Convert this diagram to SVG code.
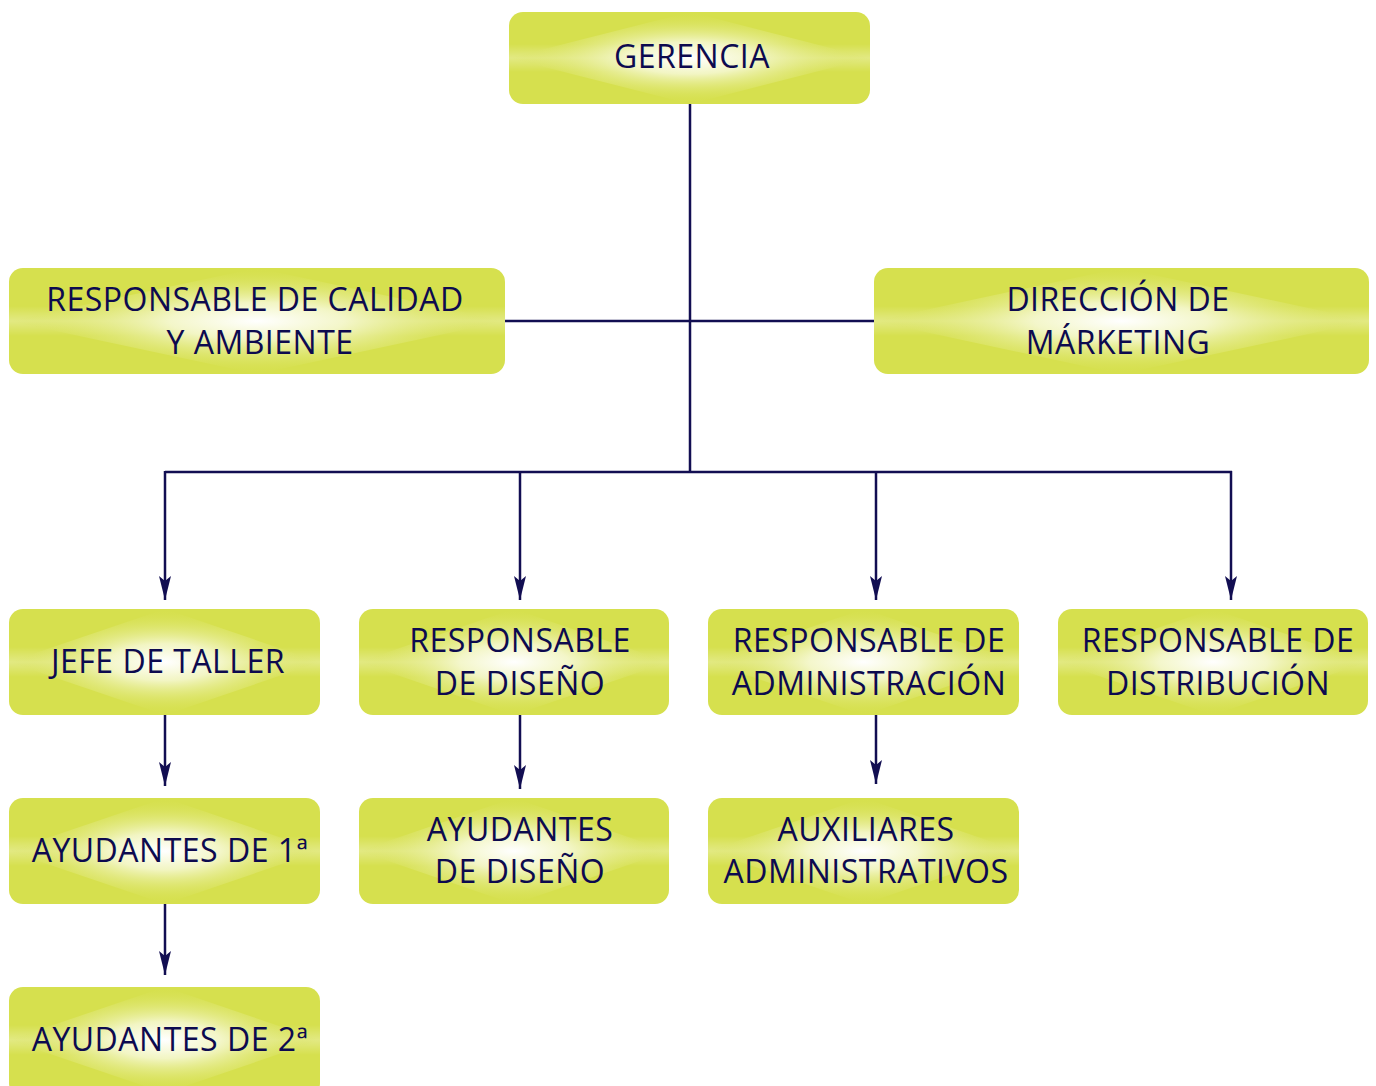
<svg xmlns="http://www.w3.org/2000/svg" width="1376" height="1086" viewBox="0 0 1376 1086">
<defs>
<radialGradient id="glow" cx="0.5" cy="0.5" r="0.5">
<stop offset="0" stop-color="#ffffff" stop-opacity="1"/>
<stop offset="0.35" stop-color="#f7f9d8" stop-opacity="0.85"/>
<stop offset="1" stop-color="#d6e04e" stop-opacity="0"/>
</radialGradient>
<linearGradient id="hband" x1="0" y1="0" x2="0" y2="1">
<stop offset="0" stop-color="#ffffff" stop-opacity="0"/>
<stop offset="0.5" stop-color="#ffffff" stop-opacity="0.3"/>
<stop offset="1" stop-color="#ffffff" stop-opacity="0"/>
</linearGradient>
<marker id="arr" viewBox="0 0 24 12" refX="24" refY="6" markerWidth="24" markerHeight="12" markerUnits="userSpaceOnUse" orient="auto">
<path d="M0,0 L24,6 L0,12 L5,6 Z" fill="#120e52"/>
</marker>
</defs>
<style>
.box{fill:#d6e04e}
.glow{fill:url(#glow)}
.band{fill:url(#hband)}
text{font-family:"Open Sans","DejaVu Sans",sans-serif;font-size:32px;letter-spacing:0.5px;fill:#0d0a4f;text-anchor:middle}
.c{stroke:#120e52;stroke-width:2.5;fill:none}
.a{stroke:#120e52;stroke-width:2.5;fill:none;marker-end:url(#arr)}
</style>

<g id="connectors">
<line class="c" x1="690" y1="104" x2="690" y2="472"/>
<line class="c" x1="505" y1="321" x2="874" y2="321"/>
<line class="c" x1="165" y1="472" x2="1232" y2="472"/>
<line class="a" x1="165" y1="471" x2="165" y2="600"/>
<line class="a" x1="520" y1="471" x2="520" y2="600"/>
<line class="a" x1="876" y1="471" x2="876" y2="600"/>
<line class="a" x1="1231" y1="471" x2="1231" y2="600"/>
<line class="a" x1="165" y1="715" x2="165" y2="786"/>
<line class="a" x1="520" y1="715" x2="520" y2="789"/>
<line class="a" x1="876" y1="715" x2="876" y2="784"/>
<line class="a" x1="165" y1="904" x2="165" y2="975"/>
</g>

<g id="gerencia">
<rect class="box" x="509" y="12" width="361" height="92" rx="14"/>
<rect class="band" x="509" y="44" width="361" height="28"/>
<polygon class="glow" points="509,58 690,12 870,58 690,104"/>
<text x="692" y="68">GERENCIA</text>
</g>

<g id="calidad">
<rect class="box" x="9" y="268" width="496" height="106" rx="14"/>
<rect class="band" x="9" y="306" width="496" height="30"/>
<polygon class="glow" points="9,321 257,268 505,321 257,374"/>
<text x="255" y="311">RESPONSABLE DE CALIDAD</text>
<text x="260" y="354">Y AMBIENTE</text>
</g>

<g id="marketing">
<rect class="box" x="874" y="268" width="495" height="106" rx="14"/>
<rect class="band" x="874" y="306" width="495" height="30"/>
<polygon class="glow" points="874,321 1121,268 1369,321 1121,374"/>
<text x="1118" y="311">DIRECCIÓN DE</text>
<text x="1118" y="354">MÁRKETING</text>
</g>

<g id="jefe-taller">
<rect class="box" x="9" y="609" width="311" height="106" rx="14"/>
<rect class="band" x="9" y="647" width="311" height="30"/>
<polygon class="glow" points="9,662 165,609 320,662 165,715"/>
<text x="168" y="673">JEFE DE TALLER</text>
</g>

<g id="resp-diseno">
<rect class="box" x="359" y="609" width="310" height="106" rx="14"/>
<rect class="band" x="359" y="647" width="310" height="30"/>
<polygon class="glow" points="359,662 514,609 669,662 514,715"/>
<text x="520" y="652">RESPONSABLE</text>
<text x="520" y="695">DE DISEÑO</text>
</g>

<g id="resp-admin">
<rect class="box" x="708" y="609" width="311" height="106" rx="14"/>
<rect class="band" x="708" y="647" width="311" height="30"/>
<polygon class="glow" points="708,662 864,609 1019,662 864,715"/>
<text x="869" y="652">RESPONSABLE DE</text>
<text x="869" y="695">ADMINISTRACIÓN</text>
</g>

<g id="resp-distribucion">
<rect class="box" x="1058" y="609" width="310" height="106" rx="14"/>
<rect class="band" x="1058" y="647" width="310" height="30"/>
<polygon class="glow" points="1058,662 1213,609 1368,662 1213,715"/>
<text x="1218" y="652">RESPONSABLE DE</text>
<text x="1218" y="695">DISTRIBUCIÓN</text>
</g>

<g id="ayudantes-1">
<rect class="box" x="9" y="798" width="311" height="106" rx="14"/>
<rect class="band" x="9" y="836" width="311" height="30"/>
<polygon class="glow" points="9,851 165,798 320,851 165,904"/>
<text x="170" y="862">AYUDANTES DE 1ª</text>
</g>

<g id="ayudantes-diseno">
<rect class="box" x="359" y="798" width="310" height="106" rx="14"/>
<rect class="band" x="359" y="836" width="310" height="30"/>
<polygon class="glow" points="359,851 514,798 669,851 514,904"/>
<text x="520" y="841">AYUDANTES</text>
<text x="520" y="883">DE DISEÑO</text>
</g>

<g id="auxiliares">
<rect class="box" x="708" y="798" width="311" height="106" rx="14"/>
<rect class="band" x="708" y="836" width="311" height="30"/>
<polygon class="glow" points="708,851 864,798 1019,851 864,904"/>
<text x="866" y="841">AUXILIARES</text>
<text x="866" y="883">ADMINISTRATIVOS</text>
</g>

<g id="ayudantes-2">
<rect class="box" x="9" y="987" width="311" height="110" rx="14"/>
<rect class="band" x="9" y="1025" width="311" height="30"/>
<polygon class="glow" points="9,1040 165,987 320,1040 165,1093"/>
<text x="170" y="1051">AYUDANTES DE 2ª</text>
</g>
</svg>
